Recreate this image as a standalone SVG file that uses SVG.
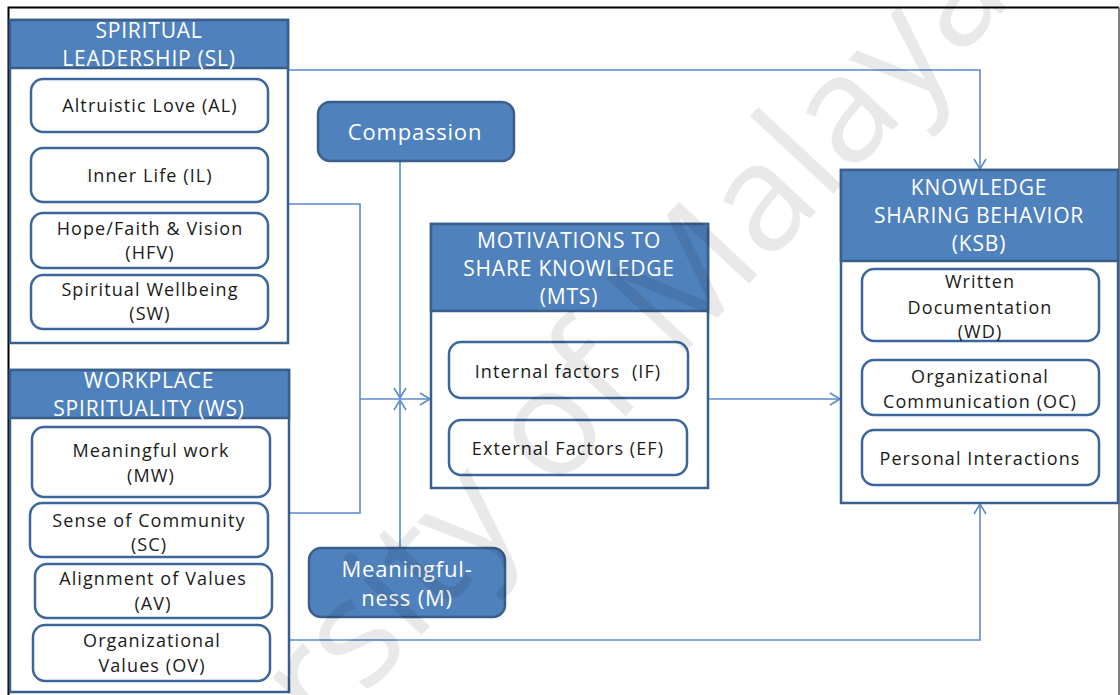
<svg xmlns="http://www.w3.org/2000/svg" width="1120" height="695" viewBox="0 0 1120 695">
  <style>
    .hdr { fill: #4F81BD; stroke: #3A5F8C; stroke-width: 2.5; }
    .body { fill: #FFFFFF; stroke: #3A5F8C; stroke-width: 2.5; }
    .sub { fill: #FFFFFF; stroke: #3C679C; stroke-width: 2.5; }
    .pill { fill: #4F81BD; stroke: #3A5F8C; stroke-width: 2.5; }
    .conn { fill: none; stroke: #5B8BCB; stroke-width: 1.6; }
    .ht { font-family: "Open Sans", "Liberation Sans", sans-serif; font-size: 21px; fill: #FFFFFF; text-anchor: middle; letter-spacing: 0.8px; }
    .st { font-family: "Open Sans", "Liberation Sans", sans-serif; font-size: 18px; fill: #1A1A1A; text-anchor: middle; letter-spacing: 1.1px; }
    .wm { font-family: "Open Sans", "Liberation Sans", sans-serif; font-size: 150px; fill: #000000; fill-opacity: 0.085; text-anchor: middle; }
  </style>
  <defs>
    <marker id="arrow" markerUnits="userSpaceOnUse" markerWidth="14" markerHeight="16" refX="11" refY="7" orient="auto">
      <path d="M1,1 L11,7 L1,13" fill="none" stroke="#5B8BCB" stroke-width="1.6"/>
    </marker>
  </defs>

  <rect x="0" y="0" width="1120" height="695" fill="#FFFFFF"/>

  <!-- page frame -->
  <path d="M8.5,695 V7.5 H1119" fill="none" stroke="#000000" stroke-width="2"/>
  <path d="M1119,7.5 V695" fill="none" stroke="#808080" stroke-width="2"/>

  <!-- connectors -->
  <g id="connectors">
    <path class="conn" d="M288,70 H980 V169" marker-end="url(#arrow)"/>
    <path class="conn" d="M288,204 H360 V513 H289"/>
    <path class="conn" d="M360,399 H430" marker-end="url(#arrow)"/>
    <path class="conn" d="M400,162 V398" marker-end="url(#arrow)"/>
    <path class="conn" d="M400,548 V400" marker-end="url(#arrow)"/>
    <path class="conn" d="M708,399 H840" marker-end="url(#arrow)"/>
    <path class="conn" d="M289,640 H980 V504" marker-end="url(#arrow)"/>
  </g>

  <!-- Spiritual Leadership -->
  <g id="sl">
    <rect class="body" x="10" y="20" width="278" height="323"/>
    <rect class="hdr" x="10" y="20" width="278" height="48"/>
    <text class="ht" x="149" y="38">SPIRITUAL</text>
    <text class="ht" x="149" y="66">LEADERSHIP (SL)</text>
  </g>
  <g id="sl-al">
    <rect class="sub" x="31" y="79" width="237" height="53" rx="12"/>
    <text class="st" x="150" y="112">Altruistic Love (AL)</text>
  </g>
  <g id="sl-il">
    <rect class="sub" x="31" y="148" width="237" height="54" rx="12"/>
    <text class="st" x="150" y="182">Inner Life (IL)</text>
  </g>
  <g id="sl-hfv">
    <rect class="sub" x="31" y="213" width="237" height="55" rx="12"/>
    <text class="st" x="150" y="235">Hope/Faith &amp; Vision</text>
    <text class="st" x="150" y="259">(HFV)</text>
  </g>
  <g id="sl-sw">
    <rect class="sub" x="31" y="275" width="237" height="54" rx="12"/>
    <text class="st" x="150" y="296">Spiritual Wellbeing</text>
    <text class="st" x="150" y="320">(SW)</text>
  </g>

  <!-- Workplace Spirituality -->
  <g id="ws">
    <rect class="body" x="10" y="370" width="279" height="322"/>
    <rect class="hdr" x="10" y="370" width="279" height="48"/>
    <text class="ht" x="149" y="388">WORKPLACE</text>
    <text class="ht" x="149" y="416">SPIRITUALITY (WS)</text>
  </g>
  <g id="ws-mw">
    <rect class="sub" x="32" y="427" width="238" height="70" rx="12"/>
    <text class="st" x="151" y="457">Meaningful work</text>
    <text class="st" x="151" y="482">(MW)</text>
  </g>
  <g id="ws-sc">
    <rect class="sub" x="30" y="503" width="238" height="54" rx="12"/>
    <text class="st" x="149" y="527">Sense of Community</text>
    <text class="st" x="149" y="551">(SC)</text>
  </g>
  <g id="ws-av">
    <rect class="sub" x="35" y="564" width="237" height="54" rx="12"/>
    <text class="st" x="153" y="585">Alignment of Values</text>
    <text class="st" x="153" y="610">(AV)</text>
  </g>
  <g id="ws-ov">
    <rect class="sub" x="33" y="625" width="237" height="56" rx="12"/>
    <text class="st" x="152" y="647">Organizational</text>
    <text class="st" x="152" y="672">Values (OV)</text>
  </g>

  <!-- Moderators -->
  <g id="compassion">
    <rect class="pill" x="318" y="102" width="196" height="59" rx="12"/>
    <text class="ht" x="415" y="140" style="font-size:22px">Compassion</text>
  </g>
  <g id="meaningfulness">
    <rect class="pill" x="309" y="548" width="196" height="69" rx="12"/>
    <text class="ht" x="407" y="577" style="font-size:22px">Meaningful-</text>
    <text class="ht" x="407" y="606" style="font-size:22px">ness (M)</text>
  </g>

  <!-- Motivations to Share Knowledge -->
  <g id="mts">
    <rect class="body" x="431" y="224" width="277" height="264"/>
    <rect class="hdr" x="431" y="224" width="277" height="87"/>
    <text class="ht" x="569" y="248">MOTIVATIONS TO</text>
    <text class="ht" x="569" y="276">SHARE KNOWLEDGE</text>
    <text class="ht" x="569" y="304">(MTS)</text>
  </g>
  <g id="mts-if">
    <rect class="sub" x="449" y="342" width="239" height="56" rx="12"/>
    <text class="st" x="568" y="378" xml:space="preserve">Internal factors  (IF)</text>
  </g>
  <g id="mts-ef">
    <rect class="sub" x="449" y="420" width="238" height="55" rx="12"/>
    <text class="st" x="568" y="455">External Factors (EF)</text>
  </g>

  <!-- Knowledge Sharing Behavior -->
  <g id="ksb">
    <rect class="body" x="841" y="170" width="277" height="333"/>
    <rect class="hdr" x="841" y="170" width="277" height="91"/>
    <text class="ht" x="979" y="195">KNOWLEDGE</text>
    <text class="ht" x="979" y="223">SHARING BEHAVIOR</text>
    <text class="ht" x="979" y="251">(KSB)</text>
  </g>
  <g id="ksb-wd">
    <rect class="sub" x="862" y="269" width="237" height="72" rx="12"/>
    <text class="st" x="980" y="288">Written</text>
    <text class="st" x="980" y="314">Documentation</text>
    <text class="st" x="980" y="338">(WD)</text>
  </g>
  <g id="ksb-oc">
    <rect class="sub" x="862" y="360" width="237" height="55" rx="12"/>
    <text class="st" x="980" y="383">Organizational</text>
    <text class="st" x="980" y="408">Communication (OC)</text>
  </g>
  <g id="ksb-pi">
    <rect class="sub" x="862" y="430" width="237" height="55" rx="12"/>
    <text class="st" x="980" y="465">Personal Interactions</text>
  </g>

  <!-- watermark -->
  <text class="wm" transform="translate(500,485) rotate(-47)" dy="0.3em">University of Malaya</text>
</svg>
